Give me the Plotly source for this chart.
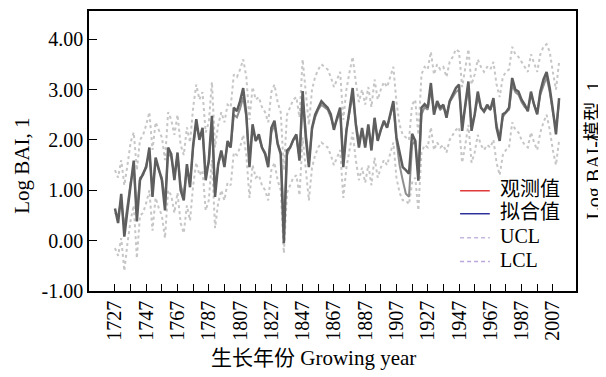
import plotly.graph_objects as go

years = list(range(1727, 2012, 2))

observed = [
    0.64, 0.35, 0.93, 0.08, 0.60, 1.10, 1.59, 0.38, 1.20, 1.33,
    1.46, 1.85, 0.87, 1.65, 1.45, 1.20, 0.60, 1.85, 1.72, 1.20,
    1.75, 1.00, 0.80, 1.52, 1.06, 1.90, 2.41, 2.00, 2.24, 1.20,
    1.59, 2.48, 0.87, 1.52, 1.79, 1.46, 1.98, 1.85, 2.64, 2.57,
    2.77, 3.03, 2.51, 1.46, 2.31, 1.98, 2.11, 1.85, 1.72, 1.46,
    2.24, 2.38, 1.92, 1.72, -0.05, 1.79, 1.85, 2.00, 2.11, 1.59,
    2.97, 2.05, 1.46, 2.24, 2.50, 2.64, 2.77, 2.70, 2.64, 2.51,
    2.20, 2.44, 2.64, 1.46, 2.18, 2.60, 3.03, 2.31, 1.85, 2.24,
    1.85, 2.31, 1.79, 2.44, 1.98, 2.20, 2.38, 2.24, 2.51, 2.77,
    2.05, 1.72, 1.46, 1.40, 1.33, 2.12, 1.98, 1.19, 2.64, 2.71,
    2.64, 3.13, 2.50, 2.77, 2.64, 2.70, 2.44, 2.77, 2.90, 3.03,
    3.10, 2.18, 2.70, 3.16, 2.18, 2.50, 2.96, 2.64, 2.57, 2.70,
    2.60, 2.83, 2.24, 1.98, 2.51, 2.55, 2.64, 3.23, 3.00, 2.96,
    2.80, 2.70, 2.57, 2.96, 2.70, 2.51, 2.96, 3.20, 3.35, 3.03,
    2.60, 2.11, 2.83,
]

fitted = [
    0.55, 0.50, 0.80, 0.25, 0.70, 1.15, 1.45, 0.55, 1.25, 1.30,
    1.50, 1.75, 1.00, 1.60, 1.40, 1.25, 0.80, 1.75, 1.65, 1.30,
    1.70, 1.10, 0.90, 1.45, 1.15, 1.85, 2.30, 2.05, 2.15, 1.35,
    1.55, 2.35, 1.00, 1.50, 1.75, 1.55, 1.90, 1.85, 2.50, 2.45,
    2.62, 2.85, 2.45, 1.60, 2.25, 2.00, 2.05, 1.85, 1.75, 1.55,
    2.15, 2.30, 1.95, 1.75, 0.30, 1.70, 1.85, 2.00, 2.05, 1.65,
    2.80, 2.10, 1.55, 2.20, 2.45, 2.60, 2.70, 2.65, 2.60, 2.45,
    2.25, 2.40, 2.55, 1.60, 2.20, 2.55, 2.90, 2.35, 1.95, 2.20,
    1.90, 2.25, 1.85, 2.40, 2.00, 2.20, 2.35, 2.25, 2.45, 2.70,
    1.98, 1.50, 1.20, 0.93, 0.87, 1.90, 2.00, 1.30, 2.50, 2.65,
    2.60, 3.00, 2.55, 2.70, 2.60, 2.65, 2.50, 2.75, 2.85, 2.95,
    3.00, 2.30, 2.65, 3.05, 2.30, 2.50, 2.85, 2.65, 2.55, 2.65,
    2.60, 2.75, 2.30, 2.05, 2.45, 2.55, 2.60, 3.10, 2.95, 2.90,
    2.75, 2.65, 2.60, 2.90, 2.70, 2.55, 2.90, 3.10, 3.25, 2.95,
    2.55, 2.25, 2.75,
]

ucl = [
    1.40, 1.25, 1.60, 1.10, 1.50, 1.95, 2.15, 1.40, 2.00, 2.10,
    2.30, 2.55, 1.80, 2.35, 2.20, 2.05, 1.60, 2.55, 2.40, 2.10,
    2.50, 1.90, 1.70, 2.25, 1.95, 2.65, 3.10, 2.80, 2.95, 2.15,
    2.35, 3.15, 1.85, 2.30, 2.55, 2.35, 2.70, 2.65, 3.30, 3.25,
    3.40, 3.60, 3.25, 2.40, 3.05, 2.80, 2.85, 2.65, 2.55, 2.35,
    2.95, 3.10, 2.75, 2.55, 1.40, 2.50, 2.65, 2.80, 2.85, 2.45,
    3.60, 2.90, 2.30, 3.00, 3.25, 3.40, 3.50, 3.45, 3.40, 3.25,
    3.05, 3.20, 3.35, 2.40, 3.00, 3.35, 3.65, 3.15, 2.75, 3.00,
    2.70, 3.05, 2.65, 3.20, 2.80, 3.00, 3.15, 3.05, 3.25, 3.45,
    2.75, 2.30, 2.10, 2.05, 2.00, 2.70, 2.80, 2.10, 3.30, 3.45,
    3.40, 3.75, 3.30, 3.50, 3.40, 3.45, 3.25, 3.55, 3.65, 3.80,
    3.75, 3.05, 3.45, 3.80, 3.10, 3.30, 3.60, 3.45, 3.35, 3.45,
    3.40, 3.55, 3.10, 2.85, 3.25, 3.35, 3.40, 3.85, 3.70, 3.65,
    3.55, 3.45, 3.35, 3.70, 3.50, 3.35, 3.70, 3.85, 3.90, 3.75,
    3.35, 3.00, 3.55,
]

lcl = [
    -0.15, -0.30, 0.05, -0.60, -0.05, 0.40, 0.70, -0.35, 0.50, 0.55,
    0.75, 1.00, 0.20, 0.85, 0.65, 0.50, 0.05, 1.00, 0.90, 0.55,
    0.95, 0.35, 0.15, 0.70, 0.40, 1.10, 1.55, 1.30, 1.40, 0.60,
    0.80, 1.60, 0.25, 0.75, 1.00, 0.80, 1.15, 1.10, 1.75, 1.70,
    1.85, 2.10, 1.70, 0.85, 1.50, 1.25, 1.30, 1.10, 1.00, 0.80,
    1.40, 1.55, 1.20, 1.00, -0.25, 0.95, 1.10, 1.25, 1.30, 0.90,
    2.05, 1.35, 0.80, 1.45, 1.70, 1.85, 1.95, 1.90, 1.85, 1.70,
    1.50, 1.65, 1.80, 0.85, 1.45, 1.80, 2.15, 1.60, 1.20, 1.45,
    1.15, 1.50, 1.10, 1.65, 1.25, 1.45, 1.60, 1.50, 1.70, 1.95,
    1.25, 0.95, 0.80, 0.80, 0.72, 1.15, 1.25, 0.60, 1.75, 1.90,
    1.85, 2.25, 1.80, 1.95, 1.85, 1.90, 1.75, 2.00, 2.10, 2.20,
    2.25, 1.55, 1.90, 2.30, 1.55, 1.75, 2.10, 1.90, 1.80, 1.90,
    1.85, 2.00, 1.55, 1.30, 1.70, 1.80, 1.85, 2.35, 2.20, 2.15,
    2.00, 1.90, 1.85, 2.15, 1.95, 1.80, 2.15, 2.35, 2.50, 2.20,
    1.80, 1.50, 2.00,
]

x_tick_vals = list(range(1727, 2008, 10))
x_tick_text = [str(v) if (v - 1727) % 20 == 0 else "" for v in x_tick_vals]
y_tick_vals = [-1, 0, 1, 2, 3, 4]
y_tick_text = ["-1.00", "0.00", "1.00", "2.00", "3.00", "4.00"]

legend_names = ["观测值", "拟合值", "UCL", "LCL"]
legend_colors = ["#e23b3b", "#2b2f9a", "#c4b6e0", "#b9a6dc"]
legend_dash = ["solid", "solid", "4px,3px", "4px,3px"]

FONT = "Liberation Serif, Noto Sans CJK SC, serif"

fig = go.Figure()
fig.add_trace(go.Scatter(x=years, y=ucl, mode="lines", showlegend=False,
                         line=dict(color="#c6c6c6", width=2, dash="dot")))
fig.add_trace(go.Scatter(x=years, y=lcl, mode="lines", showlegend=False,
                         line=dict(color="#c6c6c6", width=2, dash="dot")))
fig.add_trace(go.Scatter(x=years, y=fitted, mode="lines", showlegend=False,
                         line=dict(color="#8e8e8e", width=2)))
fig.add_trace(go.Scatter(x=years, y=observed, mode="lines", showlegend=False,
                         line=dict(color="#5e5e5e", width=2.5)))

# legend key (drawn in paper space so row spacing matches the original)
leg_rows = [0.358, 0.276, 0.190, 0.105]
shapes = []
annotations = []
for name, col, dsh, yy in zip(legend_names, legend_colors, legend_dash, leg_rows):
    shapes.append(dict(type="line", xref="paper", yref="paper",
                       x0=0.762, x1=0.823, y0=yy, y1=yy,
                       line=dict(color=col, width=1.5, dash=dsh)))
    annotations.append(dict(text=name, xref="paper", yref="paper",
                            x=0.840, y=yy + 0.006, xanchor="left", yanchor="middle",
                            showarrow=False, font=dict(size=20, family=FONT)))

annotations += [
    dict(text="生长年份 Growing year", xref="paper", yref="paper",
         x=0.46, y=-0.238, xanchor="center", yanchor="middle",
         showarrow=False, font=dict(size=21, family=FONT)),
    dict(text="Log BAI, 1", xref="paper", yref="paper",
         x=-0.1376, y=0.447, xanchor="center", yanchor="middle",
         textangle=-90, showarrow=False, font=dict(size=21, family=FONT)),
    dict(text="Log BAI-模型  1", xref="paper", yref="paper",
         x=1.036, y=0.5, xanchor="center", yanchor="middle",
         textangle=-90, showarrow=False, font=dict(size=20, family=FONT)),
]

fig.update_layout(
    width=598, height=369,
    margin=dict(l=81, r=30, t=1, b=86),
    paper_bgcolor="white", plot_bgcolor="white",
    font=dict(family=FONT, size=20, color="black"),
    showlegend=False,
    xaxis=dict(range=[1710.4, 2021.8], tickvals=x_tick_vals, ticktext=x_tick_text,
               tickangle=-90, ticks="inside", ticklen=7, tickwidth=1, tickcolor="black",
               showline=True, linecolor="black", linewidth=1.5, mirror=True,
               showgrid=False, zeroline=False, tickfont=dict(size=20, family=FONT)),
    yaxis=dict(range=[-1.0, 4.56], tickvals=y_tick_vals, ticktext=y_tick_text,
               ticks="inside", ticklen=8, tickwidth=1, tickcolor="black",
               showline=True, linecolor="black", linewidth=1.5, mirror=True,
               showgrid=False, zeroline=False, tickfont=dict(size=20, family=FONT)),
    shapes=shapes,
    annotations=annotations,
)

fig.write_html("out.html")
